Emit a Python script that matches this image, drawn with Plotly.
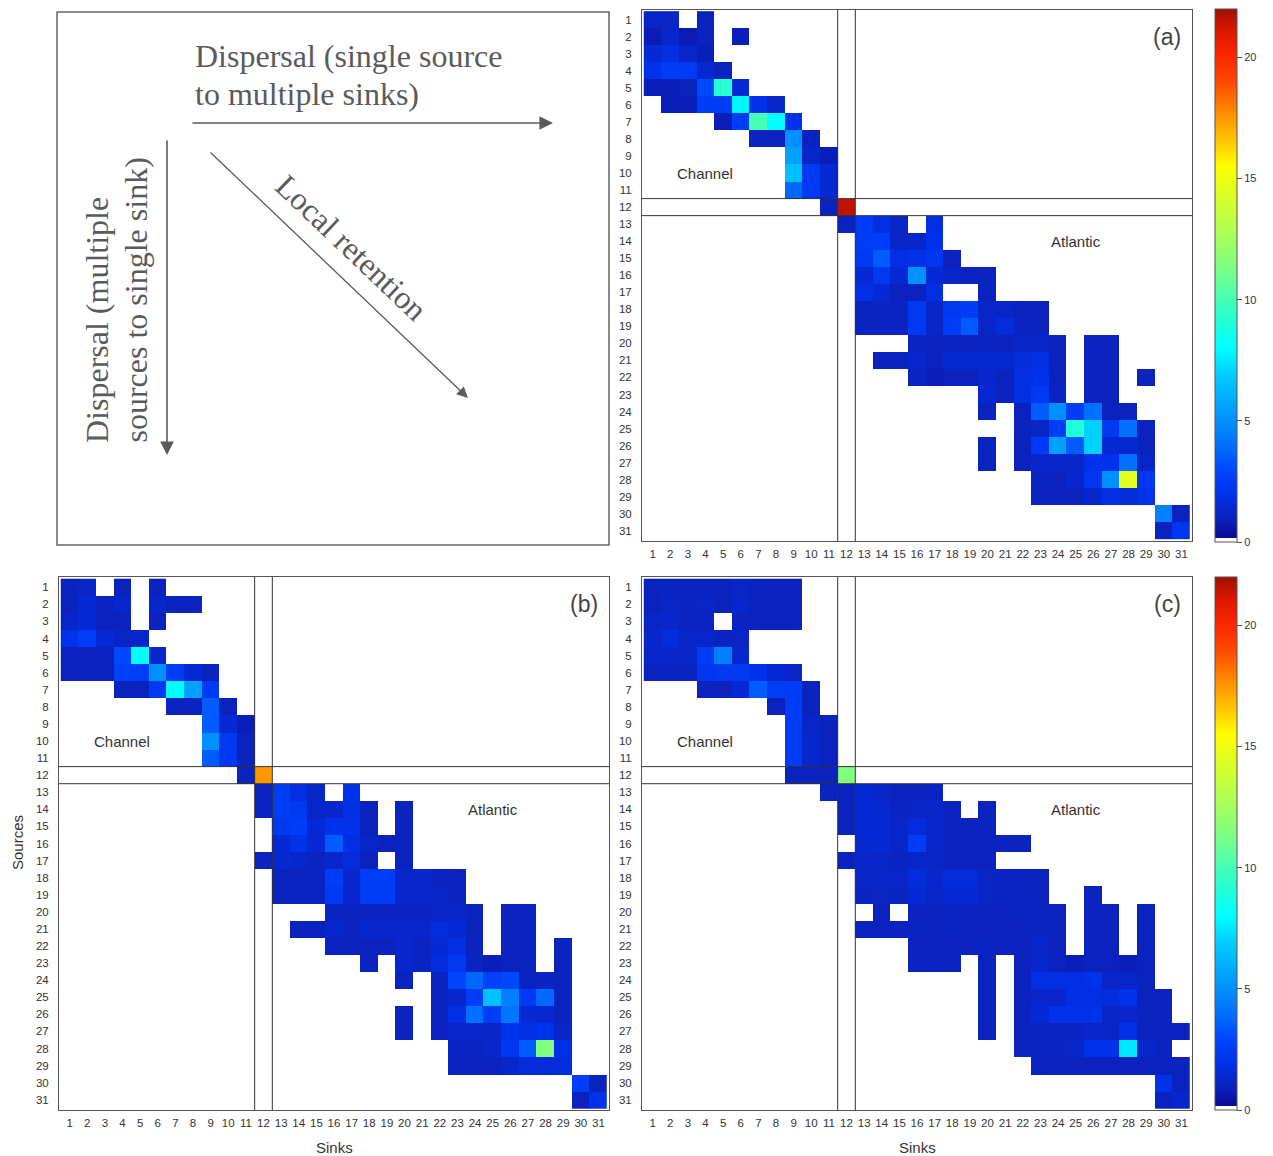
import plotly.graph_objects as go

# ---------------- data ----------------
SINKS = list(range(1, 32))
SOURCES = list(range(1, 32))
TICK_TEXT = [str(i) for i in SINKS]
COLORBAR_TICKS = [0, 5, 10, 15, 20]
Z_MAX = 22

# each row: first non-empty sink column and the values from there (0 = no connection)
A_START = [1, 1, 1, 1, 1, 2, 5, 7, 9, 9, 9, 11, 12, 13, 13, 13, 13, 13, 13, 16,
           14, 16, 20, 20, 22, 20, 20, 23, 23, 30, 30]
A_VALUES = [
    [1.2, 1.2, 0, 1.0],
    [0.8, 1.3, 0.8, 1.0, 0, 0.9],
    [1.5, 1.8, 1.2, 0.9],
    [2.0, 2.5, 2.3, 1.4, 1.0],
    [0.9, 0.9, 1.0, 3.0, 9.2, 1.5],
    [0.9, 0.9, 2.5, 2.5, 7.8, 2.0, 1.2],
    [0.9, 2.5, 10.0, 8.0, 2.0],
    [1.0, 1.0, 5.0, 1.0],
    [5.5, 1.2, 0.9],
    [6.5, 2.3, 1.5],
    [3.8, 2.3, 1.5],
    [1.0, 21.5],
    [1.0, 2.5, 1.8, 1.2, 0, 1.8],
    [2.5, 2.5, 1.2, 1.2, 2.0],
    [2.3, 3.5, 1.8, 2.0, 2.2, 1.0],
    [1.5, 2.3, 1.5, 5.0, 1.5, 1.2, 1.1, 1.0],
    [1.8, 1.5, 1.0, 1.0, 1.8, 0, 0, 1.0],
    [1.0, 1.1, 1.1, 2.3, 1.2, 2.3, 2.5, 1.2, 1.2, 1.0, 1.0],
    [1.0, 1.1, 1.1, 2.3, 1.2, 2.5, 3.5, 1.2, 1.6, 1.1, 1.0],
    [1.1, 1.0, 1.1, 1.0, 1.1, 1.0, 1.2, 1.2, 1.0, 0, 1.0, 1.0],
    [1.0, 1.0, 1.3, 1.0, 1.4, 1.4, 1.4, 1.4, 1.6, 1.8, 1.0, 0, 1.0, 1.0],
    [1.1, 0.9, 1.0, 1.0, 1.3, 1.0, 1.8, 2.0, 1.0, 0, 1.0, 1.0, 0, 1.0],
    [1.4, 1.0, 1.8, 2.3, 1.1, 0, 1.0, 1.0],
    [1.0, 0, 1.0, 3.5, 5.0, 2.5, 4.0, 1.0, 1.0],
    [1.0, 1.2, 2.5, 9.0, 7.0, 2.3, 4.0, 1.0],
    [1.0, 0, 1.0, 2.3, 5.5, 3.5, 7.0, 1.5, 1.4, 1.0],
    [1.0, 0, 1.0, 1.3, 1.3, 1.2, 2.0, 2.0, 4.0, 1.2],
    [1.1, 1.0, 1.3, 2.2, 5.0, 14.5, 2.2],
    [1.0, 1.0, 1.0, 1.3, 1.8, 1.6, 2.0],
    [4.5, 1.0],
    [1.0, 2.2],
]

B_START = [1, 1, 1, 1, 1, 1, 4, 7, 9, 9, 9, 11, 12, 12, 13, 13, 12, 13, 13, 16,
           14, 16, 18, 20, 22, 20, 20, 23, 23, 30, 30]
B_VALUES = [
    [1.0, 1.2, 0, 1.0, 0, 1.0],
    [1.0, 1.5, 1.0, 1.3, 0, 1.3, 1.0, 1.0],
    [1.2, 1.5, 1.0, 1.0, 0, 1.0],
    [2.0, 2.5, 1.5, 1.2, 1.2],
    [1.0, 1.0, 1.0, 3.0, 8.0, 1.3],
    [1.0, 1.0, 1.0, 2.7, 2.5, 5.0, 2.5, 1.5, 1.0],
    [1.0, 1.0, 2.3, 8.0, 5.5, 2.3],
    [1.0, 1.0, 3.5, 1.0],
    [3.5, 1.5, 0.9],
    [5.0, 2.3, 1.0],
    [3.5, 2.3, 1.0],
    [1.0, 17.5],
    [1.0, 2.5, 1.8, 1.2, 0, 2.0],
    [1.0, 2.5, 2.3, 1.2, 1.3, 1.8, 1.0, 0, 1.0],
    [2.3, 2.5, 1.5, 2.0, 2.0, 1.0, 0, 1.0],
    [1.5, 2.0, 1.5, 3.5, 1.8, 1.2, 1.0, 1.0],
    [1.0, 1.5, 1.3, 1.1, 1.3, 1.6, 1.0, 0, 1.0],
    [1.0, 1.1, 1.1, 2.5, 1.3, 2.5, 2.5, 1.3, 1.3, 1.1, 1.0],
    [1.0, 1.1, 1.1, 2.3, 1.3, 2.5, 2.5, 1.3, 1.3, 1.2, 1.0],
    [1.1, 1.0, 1.1, 1.0, 1.1, 1.0, 1.2, 1.2, 1.0, 0, 1.0, 1.0],
    [1.0, 1.0, 1.3, 1.1, 1.3, 1.3, 1.3, 1.3, 1.6, 1.5, 1.0, 0, 1.0, 1.0],
    [1.1, 1.0, 1.0, 1.0, 1.3, 1.1, 1.5, 1.8, 1.0, 0, 1.0, 1.0, 0, 1.0],
    [1.0, 0, 1.3, 1.1, 1.6, 2.3, 1.1, 0.9, 1.0, 1.0, 0, 1.0],
    [1.0, 0, 1.0, 2.8, 3.8, 2.7, 3.0, 1.1, 1.1, 1.0],
    [1.0, 1.3, 2.5, 6.5, 4.5, 2.3, 3.8, 1.0],
    [1.0, 0, 1.0, 1.8, 4.0, 2.5, 4.2, 1.5, 1.4, 1.0],
    [1.0, 0, 1.0, 1.3, 1.3, 1.2, 2.0, 1.8, 2.0, 1.2],
    [1.1, 1.1, 1.3, 2.2, 3.5, 11.5, 1.8],
    [1.0, 1.0, 1.0, 1.3, 1.6, 1.6, 1.6],
    [2.5, 1.0],
    [1.0, 2.0],
]

C_START = [1, 1, 1, 1, 1, 1, 4, 8, 9, 9, 9, 9, 11, 12, 12, 13, 12, 13, 13, 14,
           13, 16, 16, 20, 20, 20, 20, 22, 23, 30, 30]
C_VALUES = [
    [1.0, 1.1, 1.0, 1.1, 1.0, 1.2, 1.0, 1.0, 1.0],
    [1.0, 1.2, 1.1, 1.2, 1.0, 1.3, 1.0, 1.0, 1.0],
    [1.2, 1.3, 1.0, 1.1, 0, 1.1, 1.0, 1.0, 1.0],
    [1.3, 1.6, 1.2, 1.3, 1.1, 1.2],
    [1.2, 1.3, 1.2, 2.5, 4.5, 1.3],
    [1.0, 1.1, 1.1, 2.2, 2.3, 2.3, 2.0, 1.5, 1.2],
    [1.0, 1.0, 1.5, 3.5, 2.5, 2.5, 1.0],
    [1.0, 2.5, 1.0],
    [2.5, 1.2, 1.0],
    [2.5, 1.3, 1.0],
    [2.5, 1.3, 1.0],
    [1.0, 1.0, 1.0, 11.5],
    [1.0, 1.0, 1.5, 1.2, 1.0, 1.0, 1.1],
    [1.0, 1.5, 1.4, 1.1, 1.2, 1.2, 1.0, 0, 1.0],
    [1.0, 1.5, 1.5, 1.2, 1.6, 1.3, 1.0, 1.0, 1.0],
    [1.4, 1.5, 1.2, 2.5, 1.3, 1.0, 1.0, 1.0, 1.0, 1.0],
    [1.0, 1.3, 1.2, 1.1, 1.2, 1.2, 1.0, 1.0, 1.0],
    [1.2, 1.3, 1.2, 1.6, 1.3, 1.6, 1.6, 1.2, 1.1, 1.1, 1.0],
    [1.1, 1.2, 1.1, 1.5, 1.2, 1.5, 1.5, 1.2, 1.1, 1.1, 1.0, 0, 0, 1.0],
    [1.0, 0, 1.0, 1.0, 1.1, 1.0, 1.0, 1.0, 1.1, 1.1, 1.0, 0, 1.0, 1.0, 0, 1.0],
    [1.0, 1.0, 1.0, 1.1, 1.0, 1.1, 1.0, 1.0, 1.0, 1.0, 1.1, 1.0, 0, 1.0, 1.0, 0, 1.0],
    [1.0, 1.0, 1.0, 1.0, 1.1, 1.0, 1.0, 1.2, 1.0, 0, 1.0, 1.0, 0, 1.0],
    [1.0, 1.0, 1.0, 0, 1.0, 0, 1.0, 1.3, 1.0, 0.9, 1.0, 1.0, 0.9, 1.0],
    [1.0, 0, 1.0, 1.8, 1.8, 1.8, 2.0, 1.2, 1.2, 1.0],
    [1.0, 0, 1.0, 1.3, 1.3, 1.8, 1.8, 1.6, 2.0, 1.0, 1.0],
    [1.0, 0, 1.0, 1.5, 2.0, 2.0, 2.0, 1.2, 1.3, 1.0, 1.0],
    [1.0, 0, 1.0, 1.1, 1.1, 1.1, 1.3, 1.2, 1.8, 1.0, 1.0, 1.0],
    [1.0, 1.1, 1.1, 1.2, 2.0, 2.0, 7.5, 1.3, 1.0],
    [1.0, 1.0, 1.0, 1.0, 1.0, 1.0, 1.0, 1.0, 1.0],
    [2.0, 1.0],
    [1.0, 1.3],
]

# ---------------- helpers ----------------
W, H = 1273, 1156
SANS = "Liberation Sans, Arial, Helvetica, sans-serif"
SERIF = "Liberation Serif, Times New Roman, serif"


def px(x):
    return x / W


def py(y):
    return 1 - y / H


def build_matrix(starts, values):
    z = [[None] * len(SINKS) for _ in SOURCES]
    for r, (s, row) in enumerate(zip(starts, values)):
        for k, v in enumerate(row):
            if v > 0:
                z[r][s - 1 + k] = v
    return z


# jet-like colour ramp (value -> colour), zero shown as white
RAMP = [
    (0.0, "#ffffff"), (0.18, "#ffffff"), (0.18, "#0a0a96"), (1.0, "#0a22be"),
    (2.0, "#0032ec"), (3.0, "#0048ff"), (4.0, "#0070ff"), (5.0, "#0090ff"),
    (6.0, "#00b0ff"), (7.0, "#00d0ff"), (8.0, "#00ffff"), (9.5, "#30ffc8"),
    (11.0, "#70ff90"), (13.0, "#b4ff4c"), (14.5, "#e0ff20"), (15.5, "#ffff00"),
    (16.5, "#ffc800"), (17.5, "#ff9800"), (19.0, "#ff4800"), (20.0, "#ff2800"),
    (21.0, "#e01800"), (22.0, "#a01000"),
]
CS = [[v / Z_MAX, c] for v, c in RAMP]

FRAMES = {  # left, top, right, bottom in pixels
    "a": (642, 9.5, 1192, 541),
    "b": (59, 577, 609, 1110),
    "c": (642, 577, 1192, 1110),
}


def xaxis_cfg(frame, anchor):
    return dict(domain=[px(frame[0]), px(frame[2])], anchor=anchor, range=[0.4, 31.6],
                tickmode="array", tickvals=SINKS, ticktext=TICK_TEXT,
                tickfont=dict(size=11.5, color="#333", family=SANS), ticks="",
                ticklabelstandoff=2, showgrid=False, zeroline=False, showline=True,
                mirror=True, linecolor="#555", linewidth=1, fixedrange=True)


def yaxis_cfg(frame, anchor):
    return dict(domain=[py(frame[3]), py(frame[1])], anchor=anchor, range=[31.6, 0.4],
                tickmode="array", tickvals=SOURCES, ticktext=TICK_TEXT,
                tickfont=dict(size=11.5, color="#333", family=SANS), ticks="",
                ticklabelstandoff=7, showgrid=False, zeroline=False, showline=True,
                mirror=True, linecolor="#555", linewidth=1, fixedrange=True)


def colorbar_cfg(top):
    return dict(x=px(1215), xanchor="left", y=py(top), yanchor="top",
                len=533, lenmode="pixels", thickness=22, thicknessmode="pixels",
                outlinewidth=1, outlinecolor="#555", tickmode="array",
                tickvals=COLORBAR_TICKS, ticks="outside", ticklen=5, tickcolor="#555",
                tickfont=dict(size=11, color="#333", family=SANS), xpad=0, ypad=0)


fig = go.Figure()
panels = [("a", A_START, A_VALUES, "x", "y", 9),
          ("b", B_START, B_VALUES, "x2", "y2", 577),
          ("c", C_START, C_VALUES, "x3", "y3", None)]

for name, st, vals, xa, ya, cb_top in panels:
    fig.add_trace(go.Heatmap(
        z=build_matrix(st, vals), x=SINKS, y=SOURCES, xaxis=xa, yaxis=ya,
        zmin=0, zmax=Z_MAX, colorscale=CS, hoverongaps=False,
        showscale=cb_top is not None,
        colorbar=colorbar_cfg(cb_top) if cb_top is not None else None,
    ))

layout_axes = {}
shapes = []
annotations = []
for i, (name, st, vals, xa, ya, cb_top) in enumerate(panels):
    suffix = "" if i == 0 else str(i + 1)
    layout_axes["xaxis" + suffix] = xaxis_cfg(FRAMES[name], ya)
    layout_axes["yaxis" + suffix] = yaxis_cfg(FRAMES[name], xa)
    for pos in (11.5, 12.5):
        shapes.append(dict(type="line", xref=xa, yref=ya + " domain", x0=pos, x1=pos,
                           y0=0, y1=1, line=dict(color="#333", width=1)))
        shapes.append(dict(type="line", xref=xa + " domain", yref=ya, x0=0, x1=1,
                           y0=pos, y1=pos, line=dict(color="#333", width=1)))
    annotations += [
        dict(xref=xa, yref=ya, x=4, y=10, text="Channel", showarrow=False,
             xanchor="center", yanchor="middle",
             font=dict(size=15, color="#333", family=SANS)),
        dict(xref=xa, yref=ya, x=25, y=14, text="Atlantic", showarrow=False,
             xanchor="center", yanchor="middle",
             font=dict(size=15, color="#333", family=SANS)),
        dict(xref=xa, yref=ya, x=30.2, y=2.0, text="(" + name + ")", showarrow=False,
             xanchor="center", yanchor="middle",
             font=dict(size=23, color="#444", family=SANS)),
    ]

# axis titles
annotations += [
    dict(xref="paper", yref="paper", x=px(17), y=py(843), text="Sources", textangle=-90,
         xanchor="center", yanchor="middle", showarrow=False,
         font=dict(size=15, color="#333", family=SANS)),
    dict(xref="paper", yref="paper", x=px(334), y=py(1147), text="Sinks",
         xanchor="center", yanchor="middle", showarrow=False,
         font=dict(size=15, color="#333", family=SANS)),
    dict(xref="paper", yref="paper", x=px(917), y=py(1147), text="Sinks",
         xanchor="center", yanchor="middle", showarrow=False,
         font=dict(size=15, color="#333", family=SANS)),
]

# explanatory box
BOX_GREY = "#5a5a5a"
shapes.append(dict(type="rect", xref="paper", yref="paper", x0=px(57), x1=px(609),
                   y0=py(545), y1=py(12), line=dict(color="#666", width=1.5)))
annotations += [
    dict(xref="paper", yref="paper", x=px(193), y=py(56), xanchor="left", yanchor="middle",
         text="Dispersal (single source", showarrow=False,
         font=dict(size=32, color=BOX_GREY, family=SERIF)),
    dict(xref="paper", yref="paper", x=px(193), y=py(94), xanchor="left", yanchor="middle",
         text="to multiple sinks)", showarrow=False,
         font=dict(size=32, color=BOX_GREY, family=SERIF)),
    dict(xref="paper", yref="paper", x=px(97), y=py(445), xanchor="center", yanchor="bottom",
         text="Dispersal (multiple", textangle=-90, showarrow=False,
         font=dict(size=32, color=BOX_GREY, family=SERIF)),
    dict(xref="paper", yref="paper", x=px(135), y=py(445), xanchor="center", yanchor="bottom",
         text="sources to single sink)", textangle=-90, showarrow=False,
         font=dict(size=32, color=BOX_GREY, family=SERIF)),
    dict(xref="paper", yref="paper", x=px(352), y=py(248), xanchor="center", yanchor="middle",
         text="Local retention", textangle=43.6, showarrow=False,
         font=dict(size=32, color=BOX_GREY, family=SERIF)),
]
for (hx, hy, tx, ty, w) in [(553, 123, 191, 123, 1.6), (167, 455, 167, 139, 1.6),
                            (468, 398, 209, 151, 1.3)]:
    annotations.append(dict(xref="paper", yref="paper", x=px(hx), y=py(hy), text="",
                            showarrow=True, axref="pixel", ayref="pixel",
                            ax=tx - hx, ay=ty - hy, arrowhead=2, arrowsize=1.7,
                            arrowwidth=w, arrowcolor=BOX_GREY, standoff=0))

fig.update_layout(
    width=W, height=H, margin=dict(l=0, r=0, t=0, b=0),
    paper_bgcolor="white", plot_bgcolor="white", showlegend=False,
    font=dict(family=SANS, color="#333"),
    shapes=shapes, annotations=annotations, **layout_axes,
)

fig.write_html("out.html", config={"displayModeBar": False},
               post_script="document.body.style.margin='0';document.body.style.padding='0';")
